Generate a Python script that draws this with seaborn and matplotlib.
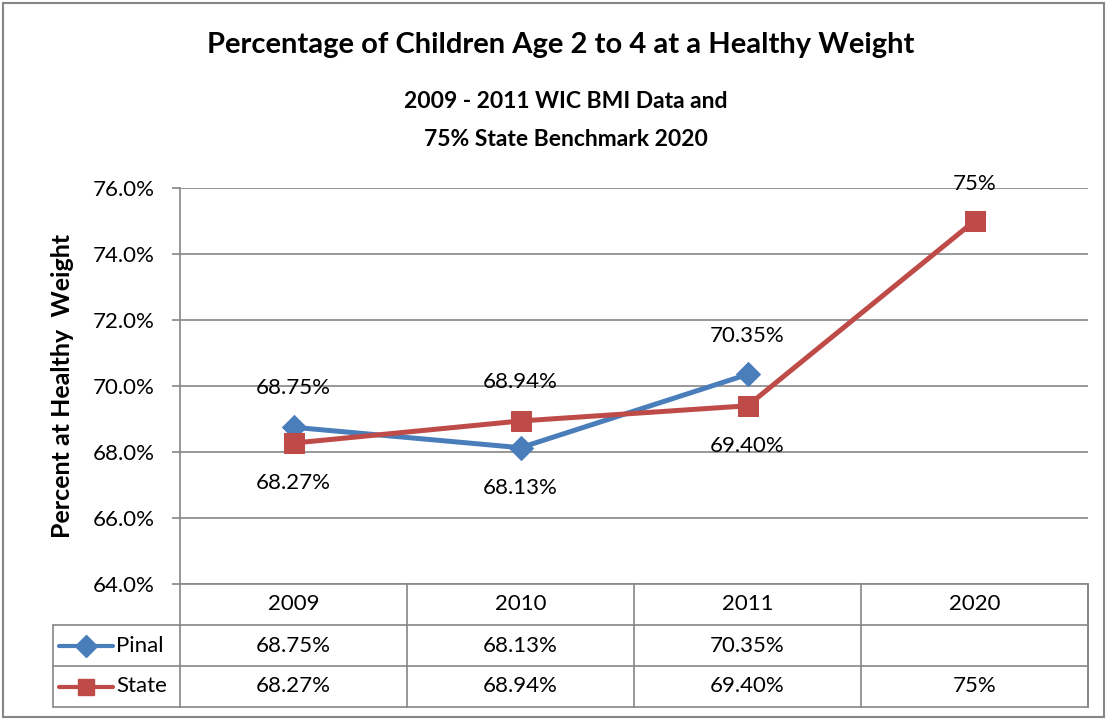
import numpy as np
import pandas as pd
import matplotlib
matplotlib.use("Agg")
import matplotlib.pyplot as plt
import seaborn as sns
from matplotlib.lines import Line2D
from matplotlib.patches import Rectangle

years = ["2009", "2010", "2011", "2020"]
pinal = [68.75, 68.13, 70.35, np.nan]
state = [68.27, 68.94, 69.40, 75.0]
pinal_labels = ["68.75%", "68.13%", "70.35%", ""]
state_labels = ["68.27%", "68.94%", "69.40%", "75%"]
yticks = [64, 66, 68, 70, 72, 74, 76]

sns.set_theme(style="white")
plt.rcParams['font.family'] = ['Lato', 'DejaVu Sans']
plt.rcParams['text.color'] = 'black'
plt.rcParams['axes.labelcolor'] = 'black'

W, H = 1107, 720
fig = plt.figure(figsize=(W / 100, H / 100), dpi=100)
gray = "#868686"
blue = "#4A7EBB"
red = "#BE4B48"

# figure border
fig.patches.append(Rectangle((3 / W, 3 / H), 1 - 6 / W, 1 - 6 / H, transform=fig.transFigure,
                             fill=False, edgecolor=gray, linewidth=1.5))

ax = fig.add_axes([180 / W, 1 - 584 / H, (1088 - 180) / W, (584 - 188) / H])
x = np.arange(len(years))
df = pd.DataFrame({"x": np.concatenate([x, x]),
                   "value": pinal + state,
                   "series": ["Pinal"] * 4 + ["State"] * 4})

sns.lineplot(data=df[df.series == "Pinal"], x="x", y="value", ax=ax, color=blue,
             linewidth=3.6, marker="D", markersize=12, markeredgecolor=blue, legend=False)
sns.lineplot(data=df[df.series == "State"], x="x", y="value", ax=ax, color=red,
             linewidth=3.6, marker="s", markersize=14, markeredgecolor=red, legend=False)

fs = 16
ax.set_xlim(-0.5, len(years) - 0.5)
ax.set_ylim(64, 76)
ax.set_yticks(yticks)
ax.set_yticklabels([f"{v:.1f}%" for v in yticks], fontsize=fs, color="black")
ax.set_xticks([])
ax.set_xlabel("")
ax.grid(axis="y", color=gray, linewidth=1.2)
ax.set_axisbelow(True)
for s in ["top", "right", "bottom"]:
    ax.spines[s].set_visible(False)
ax.spines["left"].set_color(gray)
ax.spines["left"].set_linewidth(1.2)
ax.tick_params(axis="y", which="both", left=True, length=6, width=1.2, color=gray, pad=12)
ax.set_ylabel("Percent at Healthy  Weight", fontsize=18, fontweight="bold", labelpad=14,
              color="black")

# data labels: higher value above, lower below
off = 27
for i in range(len(years)):
    p, s = pinal[i], state[i]
    if np.isnan(p):
        ax.annotate(state_labels[i], (x[i], s), xytext=(0, off), textcoords="offset points",
                    ha="center", va="center", fontsize=fs, color="black")
        continue
    hi, lo = (p, s) if p >= s else (s, p)
    hil, lol = (pinal_labels[i], state_labels[i]) if p >= s else (state_labels[i], pinal_labels[i])
    ax.annotate(hil, (x[i], hi), xytext=(0, off + 1), textcoords="offset points",
                ha="center", va="center", fontsize=fs, color="black")
    ax.annotate(lol, (x[i], lo), xytext=(0, -off - 2), textcoords="offset points",
                ha="center", va="center", fontsize=fs, color="black")

# titles
fig.text(561 / W, 1 - 45 / H, "Percentage of Children Age 2 to 4 at a Healthy Weight",
         ha="center", va="center", fontsize=21, fontweight="bold", color="black")
fig.text(566 / W, 1 - 101 / H, "2009 - 2011 WIC BMI Data and",
         ha="center", va="center", fontsize=16.5, fontweight="bold", color="black")
fig.text(566 / W, 1 - 139 / H, "75% State Benchmark 2020",
         ha="center", va="center", fontsize=16.5, fontweight="bold", color="black")

# data table
tax = fig.add_axes([180 / W, 1 - 707 / H, (1088 - 180) / W, (707 - 584) / H])
colw = (1088 - 180) / 4
tax.set_xlim(-0.5, len(years) - 0.5)
tax.set_ylim(0, 3)
tax.axis("off")
leg_left = -0.5 - (180 - 53) / colw
lw = 1.2
tax.plot([-0.5, len(years) - 0.5], [3, 3], color=gray, lw=lw, clip_on=False)
for yy in [2, 1, 0]:
    tax.plot([leg_left, len(years) - 0.5], [yy, yy], color=gray, lw=lw, clip_on=False)
for xx in np.arange(-0.5, len(years), 1.0):
    tax.plot([xx, xx], [0, 3], color=gray, lw=lw, clip_on=False)
tax.plot([len(years) - 0.5] * 2, [0, 3], color=gray, lw=lw, clip_on=False)
tax.plot([leg_left, leg_left], [0, 2], color=gray, lw=lw, clip_on=False)

for i, yr in enumerate(years):
    tax.text(i, 2.5, yr, ha="center", va="center", fontsize=fs, color="black")
    tax.text(i, 1.5, pinal_labels[i], ha="center", va="center", fontsize=fs, color="black")
    tax.text(i, 0.5, state_labels[i], ha="center", va="center", fontsize=fs, color="black")

# legend keys
for row, name, col, mk, ms in [(1.5, "Pinal", blue, "D", 11), (0.5, "State", red, "s", 12)]:
    x0 = leg_left + 6 / colw
    x1 = leg_left + 60 / colw
    tax.add_line(Line2D([x0, x1], [row, row], color=col, lw=3, solid_capstyle="round", clip_on=False))
    tax.add_line(Line2D([(x0 + x1) / 2], [row], color=col, marker=mk, markersize=ms,
                        markeredgecolor=col, clip_on=False))
    tax.text(x1 + 3 / colw, row, name, ha="left", va="center", fontsize=fs, color="black")

fig.savefig("out.png", dpi=100)
